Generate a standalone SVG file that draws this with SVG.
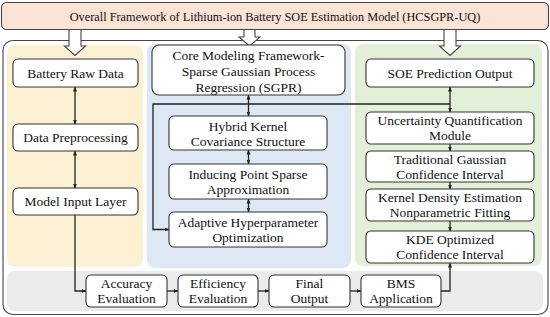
<svg xmlns="http://www.w3.org/2000/svg" width="550" height="317" viewBox="0 0 550 317">
<defs>
<marker id="ah" viewBox="0 0 10 10" refX="9" refY="5" markerWidth="5" markerHeight="5" orient="auto-start-reverse" markerUnits="userSpaceOnUse">
<path d="M0,1 L10,5 L0,9 z" fill="#222"/>
</marker>
<style>
text{font-family:"Liberation Serif","Times New Roman",serif;font-size:13.5px;fill:#111;text-anchor:middle}
.box{fill:#fff;stroke:#333;stroke-width:1.1}
.ln{fill:none;stroke:#222;stroke-width:1.3}
.hol{fill:#fff;stroke:#444;stroke-width:1.1}
</style>
</defs>
<rect width="550" height="317" fill="#fff"/>
<g id="title">
<rect x="1.5" y="2.5" width="547" height="27" rx="5" fill="#fbe3d6" stroke="#444" stroke-width="1.1"/>
<text x="275" y="20.5" style="font-size:12.3px">Overall Framework of Lithium-ion Battery SOE Estimation Model (HCSGPR-UQ)</text>
</g>
<g id="container">
<rect x="3" y="40.5" width="545" height="274" rx="10" fill="#fff" stroke="#444" stroke-width="1.1"/>
<rect x="7" y="45" width="136" height="222" rx="8" fill="#fdf1d3"/>
<rect x="147" y="44" width="204" height="224" rx="8" fill="#dde8f4"/>
<rect x="355" y="44" width="187" height="222" rx="8" fill="#e3efd9"/>
<rect x="7" y="271" width="536" height="40" rx="8" fill="#ebebeb"/>
</g>
<g id="hollow-arrows">
<path class="hol" d="M69,29.5 H81 V46 H85.5 L75,55.5 L64.5,46 H69 Z"/>
<path class="hol" d="M244,29.5 H255 V37 H260 L249.5,46 L239,37 H244 Z"/>
<path class="hol" d="M444,29.5 H456 V46 H460.5 L450,55.5 L439.5,46 H444 Z"/>
</g>
<g id="connectors">
<line class="ln" x1="75" y1="87" x2="75" y2="124" marker-start="url(#ah)" marker-end="url(#ah)"/>
<line class="ln" x1="75" y1="151" x2="75" y2="188" marker-start="url(#ah)" marker-end="url(#ah)"/>
<path class="ln" d="M75,215 V291 H86" marker-end="url(#ah)"/>
<line class="ln" x1="167" y1="291" x2="178" y2="291" marker-end="url(#ah)"/>
<line class="ln" x1="258" y1="291" x2="269" y2="291" marker-end="url(#ah)"/>
<line class="ln" x1="350" y1="291" x2="361" y2="291" marker-end="url(#ah)"/>
<path class="ln" d="M441,291 H450 V263" marker-end="url(#ah)"/>
<line class="ln" x1="248.5" y1="95" x2="248.5" y2="116" marker-start="url(#ah)" marker-end="url(#ah)"/>
<line class="ln" x1="248.5" y1="150" x2="248.5" y2="164" marker-start="url(#ah)" marker-end="url(#ah)"/>
<line class="ln" x1="248.5" y1="199" x2="248.5" y2="212" marker-start="url(#ah)" marker-end="url(#ah)"/>
<path class="ln" d="M450,104 H153 V229.5 H169" marker-end="url(#ah)"/>
<line class="ln" x1="450" y1="87" x2="450" y2="112" marker-start="url(#ah)" marker-end="url(#ah)"/>
<line class="ln" x1="450" y1="144" x2="450" y2="151" marker-end="url(#ah)"/>
<line class="ln" x1="450" y1="182" x2="450" y2="189" marker-end="url(#ah)"/>
<line class="ln" x1="450" y1="221" x2="450" y2="231" marker-end="url(#ah)"/>
</g>
<g id="battery-raw-data"><rect class="box" x="13" y="59" width="125" height="28" rx="5"/><text x="75.5" y="77.5">Battery Raw Data</text></g>
<g id="data-preprocessing"><rect class="box" x="13" y="124" width="125" height="27" rx="5"/><text x="75.5" y="142">Data Preprocessing</text></g>
<g id="model-input-layer"><rect class="box" x="13" y="188" width="125" height="27" rx="5"/><text x="75.5" y="206">Model Input Layer</text></g>
<g id="core-sgpr"><rect class="box" x="152" y="45" width="193" height="50" rx="7"/><text x="248.5" y="59.5">Core Modeling Framework-</text><text x="248.5" y="76">Sparse Gaussian Process</text><text x="248.5" y="92">Regression (SGPR)</text></g>
<g id="hybrid-kernel"><rect class="box" x="169" y="116" width="158" height="34" rx="5"/><text x="248" y="130.5">Hybrid Kernel</text><text x="248" y="145.5">Covariance Structure</text></g>
<g id="inducing-point"><rect class="box" x="169" y="164" width="158" height="35" rx="5"/><text x="248" y="178.5">Inducing Point Sparse</text><text x="248" y="193.5">Approximation</text></g>
<g id="adaptive-hyper"><rect class="box" x="169" y="212" width="158" height="35" rx="5"/><text x="248" y="226.5">Adaptive Hyperparameter</text><text x="248" y="241.5">Optimization</text></g>
<g id="soe-output"><rect class="box" x="366" y="59" width="168" height="28" rx="5"/><text x="450" y="77.5">SOE Prediction Output</text></g>
<g id="uq-module"><rect class="box" x="366" y="112" width="168" height="32" rx="5"/><text x="450" y="125">Uncertainty Quantification</text><text x="450" y="140">Module</text></g>
<g id="gaussian-ci"><rect class="box" x="366" y="151" width="168" height="31" rx="5"/><text x="450" y="163.5">Traditional Gaussian</text><text x="450" y="178.5">Confidence Interval</text></g>
<g id="kde-fit"><rect class="box" x="366" y="189" width="168" height="32" rx="5"/><text x="450" y="202">Kernel Density Estimation</text><text x="450" y="217">Nonparametric Fitting</text></g>
<g id="kde-ci"><rect class="box" x="366" y="231" width="168" height="32" rx="5"/><text x="450" y="244">KDE Optimized</text><text x="450" y="259">Confidence Interval</text></g>
<g id="accuracy"><rect class="box" x="86" y="275" width="81" height="32" rx="5"/><text x="126.5" y="288">Accuracy</text><text x="126.5" y="303">Evaluation</text></g>
<g id="efficiency"><rect class="box" x="178" y="275" width="80" height="32" rx="5"/><text x="218" y="288">Efficiency</text><text x="218" y="303">Evaluation</text></g>
<g id="final-output"><rect class="box" x="269" y="275" width="81" height="32" rx="5"/><text x="309.5" y="288">Final</text><text x="309.5" y="303">Output</text></g>
<g id="bms"><rect class="box" x="361" y="275" width="80" height="32" rx="5"/><text x="401" y="288">BMS</text><text x="401" y="303">Application</text></g>
</svg>
